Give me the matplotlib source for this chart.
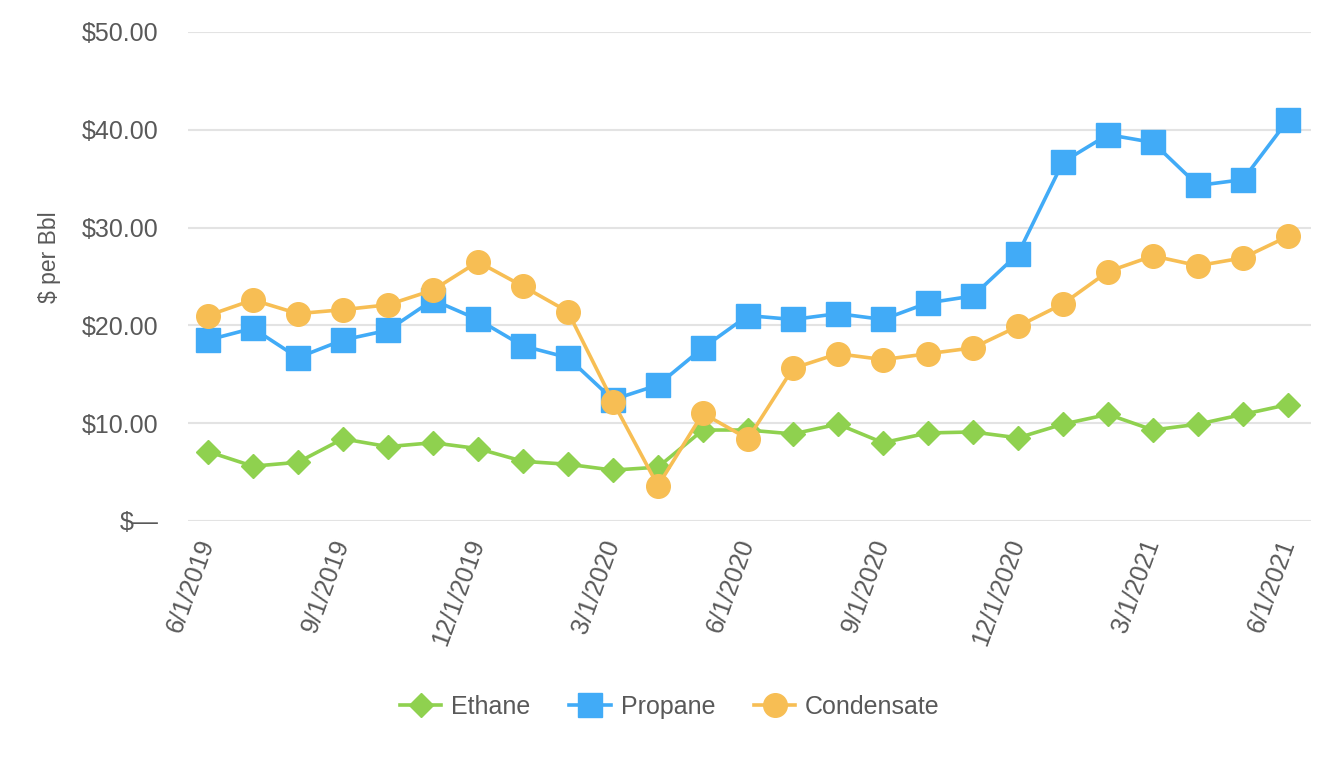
import matplotlib.pyplot as plt

plt.rcParams['font.family'] = ['Liberation Sans', 'DejaVu Sans']

months = ["6/1/2019", "7/1/2019", "8/1/2019", "9/1/2019", "10/1/2019", "11/1/2019",
          "12/1/2019", "1/1/2020", "2/1/2020", "3/1/2020", "4/1/2020", "5/1/2020",
          "6/1/2020", "7/1/2020", "8/1/2020", "9/1/2020", "10/1/2020", "11/1/2020",
          "12/1/2020", "1/1/2021", "2/1/2021", "3/1/2021", "4/1/2021", "5/1/2021",
          "6/1/2021"]

ethane = [7.1, 5.6, 6.0, 8.4, 7.6, 8.0, 7.4, 6.1, 5.8, 5.2, 5.5, 9.3, 9.3,
          8.9, 9.9, 8.0, 9.0, 9.1, 8.5, 9.9, 10.9, 9.3, 9.9, 10.9, 11.9]
propane = [18.5, 19.7, 16.7, 18.5, 19.5, 22.6, 20.6, 17.9, 16.7, 12.4, 13.9, 17.7, 21.0,
           20.6, 21.2, 20.6, 22.3, 23.0, 27.3, 36.7, 39.5, 38.7, 34.3, 34.9, 41.0]
condensate = [21.0, 22.6, 21.2, 21.6, 22.1, 23.6, 26.5, 24.0, 21.4, 12.2, 3.6, 11.0, 8.4,
              15.6, 17.1, 16.5, 17.1, 17.7, 19.9, 22.2, 25.5, 27.1, 26.1, 26.9, 29.1]

ytick_vals = [0, 10, 20, 30, 40, 50]
ytick_labels = ["$\u2014", "$10.00", "$20.00", "$30.00", "$40.00", "$50.00"]

text_color = "#595959"

fig = plt.figure(figsize=(13.4, 7.6), dpi=100)
ax = fig.add_axes([0.140, 0.3145, 0.838, 0.6435])

x = list(range(len(months)))
ax.plot(x, ethane, color="#8fd14f", lw=2.6, marker="D", ms=12, label="Ethane", zorder=3)
ax.plot(x, propane, color="#41abf7", lw=2.6, marker="s", ms=17, label="Propane", zorder=4)
ax.plot(x, condensate, color="#f7be54", lw=2.6, marker="o", ms=17, label="Condensate", zorder=5)

ax.set_xlim(-0.45, 24.5)
ax.set_ylim(0, 50)
ax.set_yticks(ytick_vals)
ax.set_yticklabels(ytick_labels)
ax.set_xticks(x[::3])
ax.set_xticklabels(months[::3], rotation=70, ha="right", va="center", rotation_mode="anchor")

ax.grid(axis="y", color="#e3e3e3", lw=1.5, zorder=0)
ax.set_axisbelow(True)
for s in ax.spines.values():
    s.set_visible(False)
ax.tick_params(axis="y", length=0, pad=21, labelsize=18, labelcolor=text_color)
ax.tick_params(axis="x", length=0, pad=14, labelsize=18, labelcolor=text_color)

fig.text(50 / 1340, 1 - 257 / 760, "$ per Bbl", rotation=90, ha="center", va="center",
         fontsize=16.5, color=text_color)

leg = fig.legend(loc="center", bbox_to_anchor=(0.5, 1 - 707 / 760), ncol=3, frameon=False,
                 fontsize=18, handlelength=1.65, columnspacing=1.55, handletextpad=0.4)
for t in leg.get_texts():
    t.set_color(text_color)

fig.savefig("out.png", dpi=100)
